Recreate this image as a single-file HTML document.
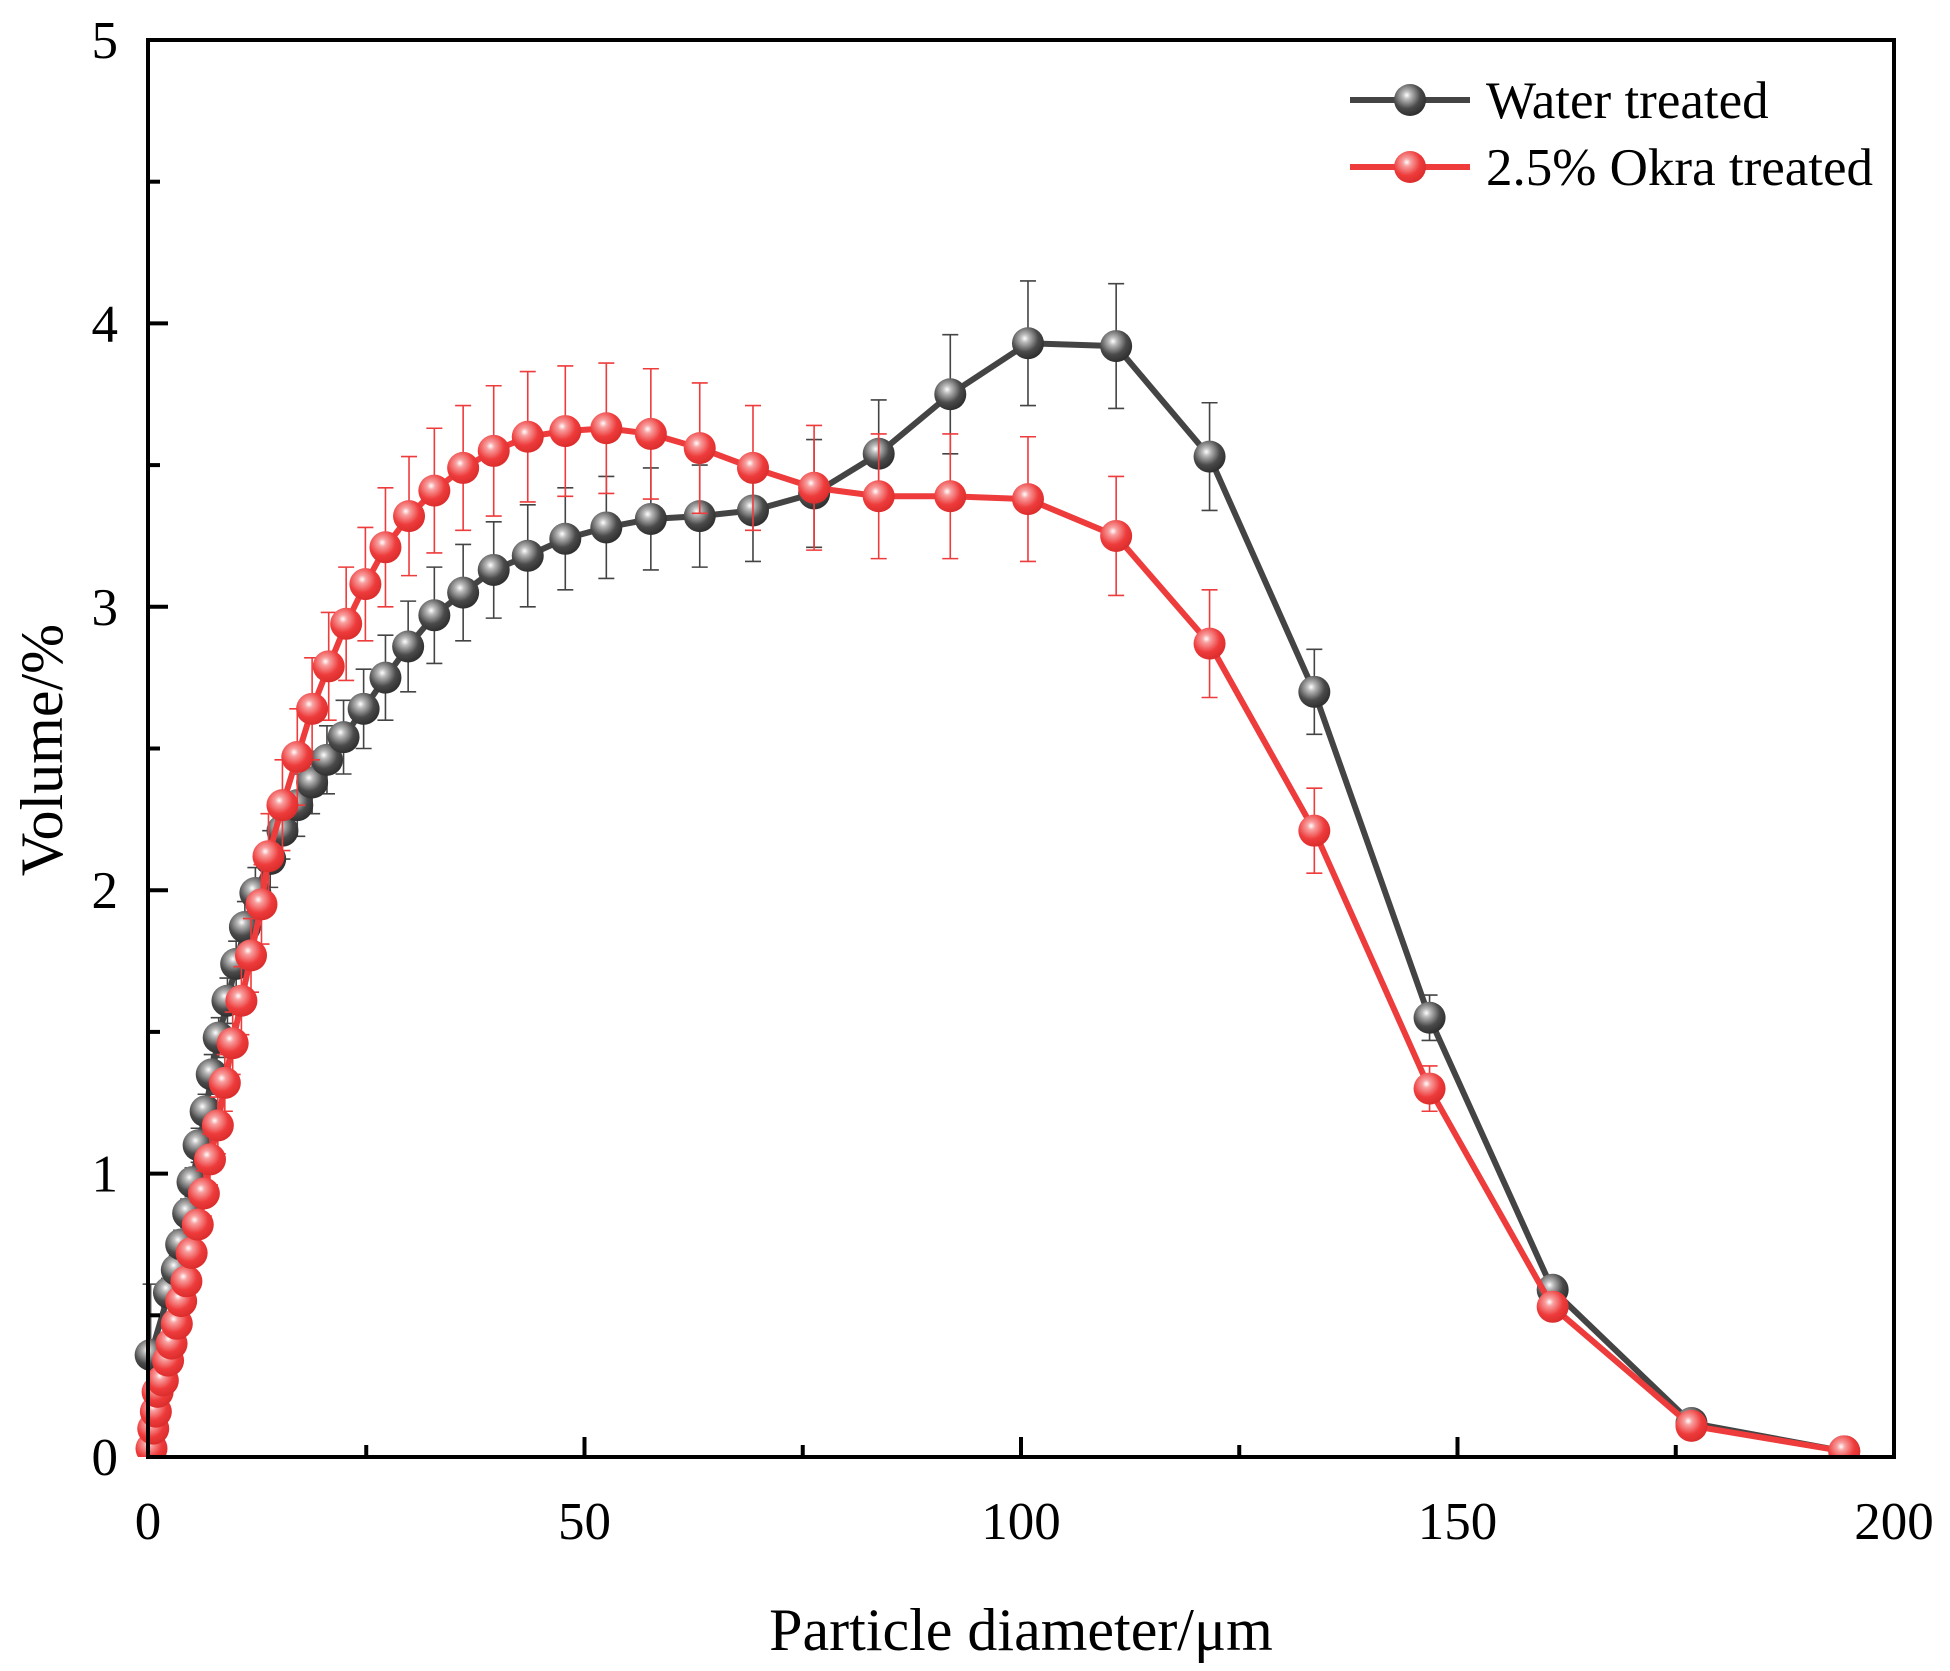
<!DOCTYPE html>
<html><head><meta charset="utf-8"><style>
html,body{margin:0;padding:0;background:#fff;}
svg{display:block;font-family:"Liberation Serif",serif;}
</style></head><body>
<svg id="chart" width="1950" height="1671" viewBox="0 0 1950 1671">
<defs>
<radialGradient id="gGray" cx="0.4" cy="0.35" r="0.7">
<stop offset="0" stop-color="#ffffff"/><stop offset="0.18" stop-color="#bbbbbb"/><stop offset="0.6" stop-color="#4a4a4a"/><stop offset="1" stop-color="#2a2a2a"/>
</radialGradient>
<radialGradient id="gRed" cx="0.4" cy="0.35" r="0.7">
<stop offset="0" stop-color="#ffffff"/><stop offset="0.18" stop-color="#f8a0a0"/><stop offset="0.6" stop-color="#ee3b3b"/><stop offset="1" stop-color="#d82a2a"/>
</radialGradient>
</defs>
<g id="plot"></g>
<g id="axes"></g>
</svg>
<script>
const waterX=[0.3,2.4,3.3,3.8,4.6,5.1,5.8,6.6,7.3,8.1,9.1,10.1,11.1,12.3,14.0,15.4,17.1,18.8,20.5,22.4,24.7,27.2,29.8,32.8,36.1,39.6,43.5,47.8,52.5,57.6,63.2,69.3,76.3,83.7,91.9,100.8,110.9,121.6,133.6,146.8,160.9,176.8,194.3];
const waterY=[0.36,0.58,0.66,0.75,0.86,0.97,1.10,1.22,1.35,1.48,1.61,1.74,1.87,1.99,2.11,2.21,2.30,2.38,2.46,2.54,2.64,2.75,2.86,2.97,3.05,3.13,3.18,3.24,3.28,3.31,3.32,3.34,3.40,3.54,3.75,3.93,3.92,3.53,2.70,1.55,0.59,0.12,0.02];
const waterErr=[0.25,0.05,0.05,0.05,0.05,0.05,0.06,0.06,0.07,0.07,0.08,0.08,0.09,0.09,0.1,0.1,0.11,0.11,0.12,0.13,0.14,0.15,0.16,0.17,0.17,0.17,0.18,0.18,0.18,0.18,0.18,0.18,0.19,0.19,0.21,0.22,0.22,0.19,0.15,0.08,0.03,0.02,0.01];
const okraX=[0.4,0.6,0.9,1.1,1.7,2.3,2.7,3.3,3.8,4.4,5.0,5.7,6.4,7.1,8.0,8.8,9.7,10.7,11.8,13.0,13.8,15.4,17.1,18.8,20.7,22.7,24.9,27.2,29.9,32.8,36.1,39.6,43.5,47.8,52.5,57.6,63.2,69.3,76.3,83.7,91.9,100.8,110.9,121.6,133.6,146.8,160.9,176.8,194.3];
const okraY=[0.03,0.10,0.16,0.23,0.27,0.34,0.40,0.47,0.55,0.62,0.72,0.82,0.93,1.05,1.17,1.32,1.46,1.61,1.77,1.95,2.12,2.30,2.47,2.64,2.79,2.94,3.08,3.21,3.32,3.41,3.49,3.55,3.60,3.62,3.63,3.61,3.56,3.49,3.42,3.39,3.39,3.38,3.25,2.87,2.21,1.30,0.53,0.11,0.02];
const okraErr=[0.03,0.04,0.05,0.05,0.05,0.05,0.06,0.06,0.06,0.07,0.07,0.08,0.08,0.09,0.1,0.1,0.11,0.12,0.13,0.14,0.15,0.16,0.17,0.18,0.19,0.2,0.2,0.21,0.21,0.22,0.22,0.23,0.23,0.23,0.23,0.23,0.23,0.22,0.22,0.22,0.22,0.22,0.21,0.19,0.15,0.08,0.03,0.02,0.01];
const xTicks=[0,50,100,150,200];
const yTicks=[0,1,2,3,4,5];

const L=148,R=1894,T=40,B=1457;
const sx=v=>L+(v/200)*(R-L);
const sy=v=>B-(v/5)*(B-T);
const NS='http://www.w3.org/2000/svg';
function mk(tag,attrs,parent){const e=document.createElementNS(NS,tag);for(const k in attrs)e.setAttribute(k,attrs[k]);parent.appendChild(e);return e;}
const plot=document.getElementById('plot'),axes=document.getElementById('axes');

function series(xs,ys,es,color,grad,name){
  const g=mk('g',{},plot);
  
  
  xs.forEach((x,i)=>{
    const cx=sx(x),y1=sy(ys[i]+es[i]),y2=sy(Math.max(0,ys[i]-es[i]));
    const e=mk('path',{d:`M${cx},${y1}V${y2}M${cx-8},${y1}H${cx+8}M${cx-8},${y2}H${cx+8}`,stroke:color,'stroke-width':1.6,fill:'none'},g);
    
    
  });
  const ln=mk('polyline',{points:xs.map((x,i)=>sx(x)+','+sy(ys[i])).join(' '),fill:'none',stroke:color,'stroke-width':6,'stroke-linejoin':'round'},g);
  
  
  xs.forEach((x,i)=>{
    const c=mk('circle',{cx:sx(x),cy:sy(ys[i]),r:16,fill:`url(#${grad})`},g);
    
    
  });
}
series(waterX,waterY,waterErr,'#444','gGray','water-treated');
series(okraX,okraY,okraErr,'#ee3b3b','gRed','okra-treated');

const cov=mk('rect',{x:0,y:B,width:1950,height:1671-B,fill:'#fff'},axes);


const frame=mk('rect',{x:L,y:T,width:R-L,height:B-T,fill:'none',stroke:'#000','stroke-width':4},axes);


for(let v=0;v<=200;v+=25){
  const maj=v%50===0;
  const t=mk('line',{x1:sx(v),x2:sx(v),y1:B,y2:B-(maj?20:12),stroke:'#000','stroke-width':4},axes);
  
  
}
for(let v=0;v<=5;v+=0.5){
  const maj=Math.abs(v-Math.round(v))<1e-6;
  const t=mk('line',{x1:L,x2:L+(maj?20:12),y1:sy(v),y2:sy(v),stroke:'#000','stroke-width':4},axes);
  
  
}
xTicks.forEach(v=>{
  const t=mk('text',{x:sx(v),y:B+82,'font-size':53,'text-anchor':'middle',fill:'#000'},axes);
  t.textContent=v;
  
  
});
yTicks.forEach(v=>{
  const t=mk('text',{x:118,y:sy(v)+18,'font-size':53,'text-anchor':'end',fill:'#000'},axes);
  t.textContent=v;
  
  
});
const xt=mk('text',{x:1021,y:1650,'font-size':60,'text-anchor':'middle',fill:'#000'},axes);
xt.textContent='Particle diameter/μm';


const yt=mk('text',{x:0,y:0,'font-size':60,'text-anchor':'middle',fill:'#000',transform:'translate(62,750) rotate(-90)'},axes);
yt.textContent='Volume/%';



[['Water treated','#444','gGray',100],['2.5% Okra treated','#ee3b3b','gRed',167]].forEach(([lab,col,gr,y])=>{
  const g=mk('g',{},axes);
  
  
  mk('line',{x1:1350,x2:1470,y1:y,y2:y,stroke:col,'stroke-width':6},g);
  mk('circle',{cx:1410,cy:y,r:16,fill:`url(#${gr})`},g);
  const t=mk('text',{x:1486,y:y+18,'font-size':53,fill:'#000'},g);
  t.textContent=lab;
});
</script>
</body></html>
